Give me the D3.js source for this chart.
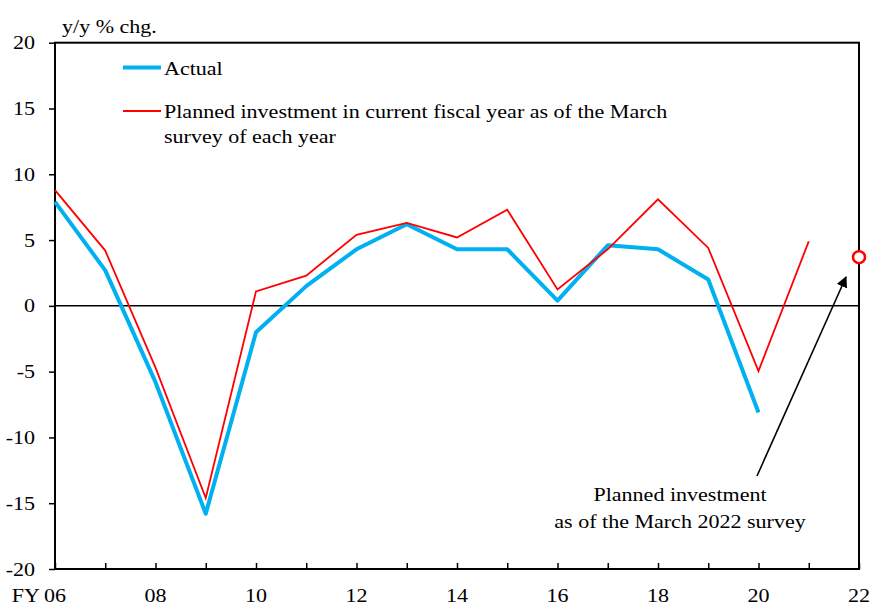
<!DOCTYPE html>
<html>
<head>
<meta charset="utf-8">
<script src="https://cdn.jsdelivr.net/npm/d3@7"></script>
<style>
  html, body { margin: 0; padding: 0; background: #fff; }
  svg { display: block; }
</style>
</head>
<body>
<svg id="chart" width="870" height="606"></svg>
<script>
// ---- data ----
const yearsActual = [2006, 2007, 2008, 2009, 2010, 2011, 2012, 2013, 2014, 2015, 2016, 2017, 2018, 2019, 2020];
const actual = [7.9, 2.7, -5.8, -15.8, -2.0, 1.5, 4.3, 6.2, 4.3, 4.3, 0.4, 4.6, 4.3, 2.0, -8.1];
const yearsPlanned = [2006, 2007, 2008, 2009, 2010, 2011, 2012, 2013, 2014, 2015, 2016, 2017, 2018, 2019, 2020, 2021];
const planned = [8.8, 4.2, -4.7, -14.6, 1.1, 2.3, 5.4, 6.3, 5.2, 7.3, 1.25, 4.3, 8.1, 4.4, -4.95, 4.9];
const plan2022Year = 2022;
const plan2022Value = 3.7;
const yTicks = [-20, -15, -10, -5, 0, 5, 10, 15, 20];
const xTickYears = [2006, 2007, 2008, 2009, 2010, 2011, 2012, 2013, 2014, 2015, 2016, 2017, 2018, 2019, 2020, 2021, 2022];
const xLabelYears = [2006, 2008, 2010, 2012, 2014, 2016, 2018, 2020, 2022];
const xLabels = ["06", "08", "10", "12", "14", "16", "18", "20", "22"];
const legendLabels = ["Actual", "Planned investment in current fiscal year as of the March", "survey of each year"];
const yAxisTitle = "y/y % chg.";
const annotationLines = ["Planned investment", "as of the March 2022 survey"];

// ---- layout ----
const svg = d3.select("#chart");
const L = 55, R = 859, T = 42.7, B = 569;
const SX = 1.16, FS = 19;
const FONT = "'Liberation Serif', 'Times New Roman', Times, serif";
const x = d3.scaleLinear().domain([2006, 2022]).range([L, R]);
const y = d3.scaleLinear().domain([-20, 20]).range([B, T]);

function addText(g, tx, ty, str, anchor) {
  return g.append("text")
    .attr("transform", `translate(${tx},${ty}) scale(${SX},1)`)
    .attr("font-family", FONT)
    .attr("font-size", FS)
    .attr("fill", "#000")
    .attr("text-anchor", anchor || "start")
    .text(str);
}

// zero line
svg.append("line")
  .attr("x1", L).attr("x2", R)
  .attr("y1", y(0)).attr("y2", y(0))
  .attr("stroke", "#000").attr("stroke-width", 1.5);

// y axis (ticks outward)
const yAxis = d3.axisLeft(y).tickValues(yTicks).tickSize(6).tickFormat("");
const gy = svg.append("g").attr("transform", `translate(${L},0)`).call(yAxis);
gy.select(".domain").remove();
gy.selectAll(".tick line").attr("stroke", "#000").attr("stroke-width", 1.5);
yTicks.forEach(v => {
  addText(svg, 35, y(v) + 6.5, String(v), "end");
});

// x axis ticks (inward)
const xAxis = d3.axisTop(x).tickValues(xTickYears).tickSize(6).tickFormat("");
const gx = svg.append("g").attr("transform", `translate(0,${B})`).call(xAxis);
gx.select(".domain").remove();
gx.selectAll(".tick line").attr("stroke", "#000").attr("stroke-width", 1.5);
xLabelYears.forEach((yr, i) => {
  addText(svg, x(yr), 601.5, xLabels[i], "middle");
});
addText(svg, x(2006) - 15, 601.5, "FY", "end");

// plot frame
svg.append("rect")
  .attr("x", L).attr("y", T)
  .attr("width", R - L).attr("height", B - T)
  .attr("fill", "none").attr("stroke", "#000").attr("stroke-width", 2);

// y axis title
addText(svg, 62, 33, yAxisTitle, "start");

// lines
const lineGen = d3.line().x(d => x(d[0])).y(d => y(d[1]));
svg.append("path")
  .datum(yearsActual.map((yr, i) => [yr, actual[i]]))
  .attr("d", lineGen)
  .attr("fill", "none").attr("stroke", "#00B0F0").attr("stroke-width", 4)
  .attr("stroke-linejoin", "round");
svg.append("path")
  .datum(yearsPlanned.map((yr, i) => [yr, planned[i]]))
  .attr("d", lineGen)
  .attr("fill", "none").attr("stroke", "#FF0000").attr("stroke-width", 1.8)
  .attr("stroke-linejoin", "miter");

// 2022 marker
svg.append("circle")
  .attr("cx", x(plan2022Year)).attr("cy", y(plan2022Value)).attr("r", 6)
  .attr("fill", "#fff").attr("stroke", "#FF0000").attr("stroke-width", 2.5);

// legend
svg.append("line").attr("x1", 123).attr("x2", 161).attr("y1", 67.5).attr("y2", 67.5)
  .attr("stroke", "#00B0F0").attr("stroke-width", 4);
addText(svg, 164, 74.5, legendLabels[0], "start");
svg.append("line").attr("x1", 123).attr("x2", 161).attr("y1", 111).attr("y2", 111)
  .attr("stroke", "#FF0000").attr("stroke-width", 1.8);
addText(svg, 164, 117.5, legendLabels[1], "start");
addText(svg, 164, 143, legendLabels[2], "start");

// annotation arrow
const defs = svg.append("defs");
defs.append("marker")
  .attr("id", "arrow").attr("viewBox", "0 0 10 10")
  .attr("refX", 9).attr("refY", 5)
  .attr("markerWidth", 7).attr("markerHeight", 7)
  .attr("markerUnits", "strokeWidth")
  .attr("orient", "auto")
  .append("path").attr("d", "M0,0 L10,5 L0,10 Z").attr("fill", "#000");
svg.append("line")
  .attr("x1", 757).attr("y1", 476)
  .attr("x2", 846).attr("y2", 277)
  .attr("stroke", "#000").attr("stroke-width", 1.6)
  .attr("marker-end", "url(#arrow)");
addText(svg, 680, 501, annotationLines[0], "middle");
addText(svg, 680, 527.5, annotationLines[1], "middle");
</script>
</body>
</html>
